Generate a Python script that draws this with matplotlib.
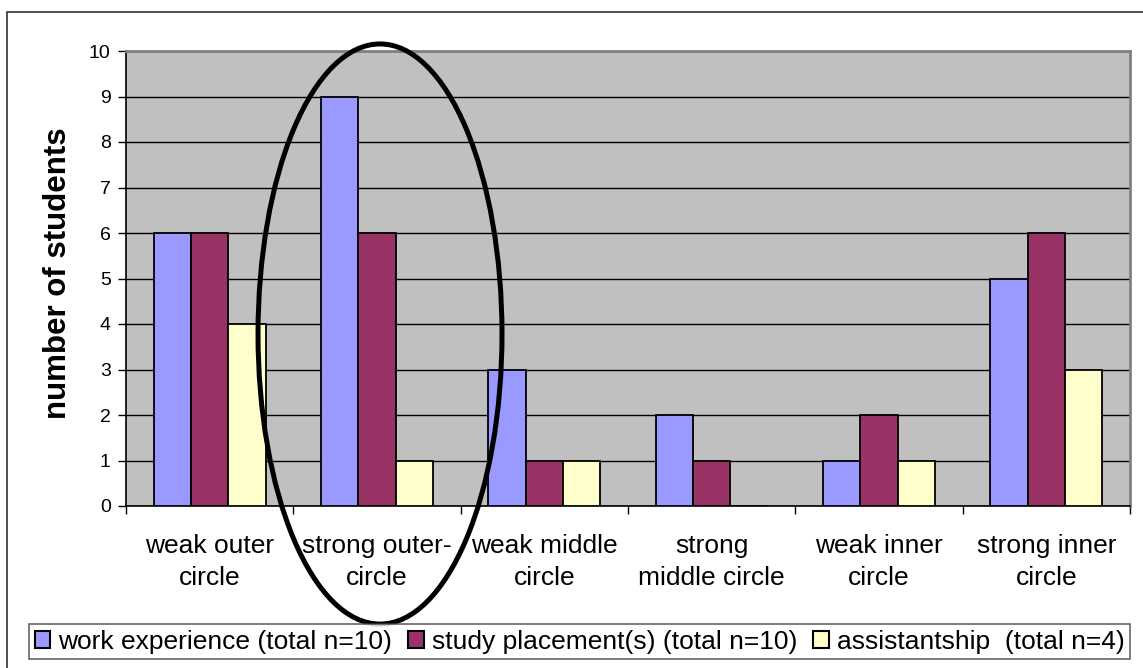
import matplotlib
matplotlib.use("Agg")
import matplotlib.pyplot as plt
import numpy as np
from matplotlib.patches import Ellipse, Rectangle

categories = ["weak outer\ncircle", "strong outer-\ncircle", "weak middle\ncircle",
              "strong\nmiddle circle", "weak inner\ncircle", "strong inner\ncircle"]
work_experience = [6, 9, 3, 2, 1, 5]
study_placement = [6, 6, 1, 1, 2, 6]
assistantship = [4, 1, 1, 0, 1, 3]
series_labels = ["work experience (total n=10)", "study placement(s) (total n=10)",
                 "assistantship  (total n=4)"]
yticks = list(range(0, 11))

plt.rcParams['font.family'] = ['Liberation Sans', 'DejaVu Sans']

W, H = 1143, 668
fig = plt.figure(figsize=(W / 100, H / 100), dpi=100)

# outer chart border (only left/top visible)
fig.patches.append(Rectangle((7 / W, -0.05), 1.2, 1 - 12 / H + 0.05, transform=fig.transFigure,
                             fill=False, edgecolor='#303030', linewidth=1.2, zorder=0))

left, right, top, bottom = 126, 1130, 51, 506
ax = fig.add_axes([left / W, 1 - bottom / H, (right - left) / W, (bottom - top) / H])
ax.set_facecolor('#C0C0C0')

x = np.arange(len(categories))
bw = 0.223
colors = ['#9999FF', '#993366', '#FFFFCC']
for i, (vals, c, lab) in enumerate(zip([work_experience, study_placement, assistantship], colors, series_labels)):
    ax.bar(x + (i - 1) * bw, vals, width=bw, color=c, edgecolor='black', linewidth=1.3,
           label=lab, zorder=3)

ax.set_xlim(-0.5, len(categories) - 0.5)
ax.set_ylim(0, 10)
ax.set_yticks(yticks)
ax.set_yticklabels([str(v) for v in yticks], fontsize=14)
ax.yaxis.grid(True, color='black', linewidth=1.0, zorder=1)
ax.set_axisbelow(True)

ax.set_xticks(x)
ax.set_xticklabels(categories, fontsize=19, linespacing=1.45)
ax.set_xticks(np.arange(-0.5, len(categories)), minor=True)
ax.tick_params(axis='x', which='major', length=0, pad=20)
ax.tick_params(axis='x', which='minor', length=6, width=1, direction='out')
ax.tick_params(axis='y', length=6, width=1, direction='out', pad=5)

for s in ['top', 'right']:
    ax.spines[s].set_color('#808080')
    ax.spines[s].set_linewidth(2)
for s in ['left', 'bottom']:
    ax.spines[s].set_color('black')
    ax.spines[s].set_linewidth(1.2)

fig.text(58 / W, 1 - 273.5 / H, "number of students", rotation=90, fontsize=22.5,
         fontweight='bold', ha='center', va='center')

# highlight ellipse around the "strong outer-circle" group
ell = Ellipse((1.018, 3.78), 1.458, 12.75, fill=False, edgecolor='black', linewidth=3.6,
              clip_on=False, zorder=5)
ax.add_patch(ell)

leg = fig.legend(loc='center', bbox_to_anchor=(579.5 / W, 1 - 641.5 / H), ncol=3,
                 fontsize=19, frameon=True, fancybox=False, edgecolor='#404040',
                 handlelength=0.6, handleheight=0.6, handletextpad=0.3,
                 columnspacing=0.6, borderpad=0.2, borderaxespad=0)
leg.get_frame().set_linewidth(1.2)
for h in leg.legend_handles:
    h.set_linewidth(1.5)

fig.savefig("out.png", dpi=100)
